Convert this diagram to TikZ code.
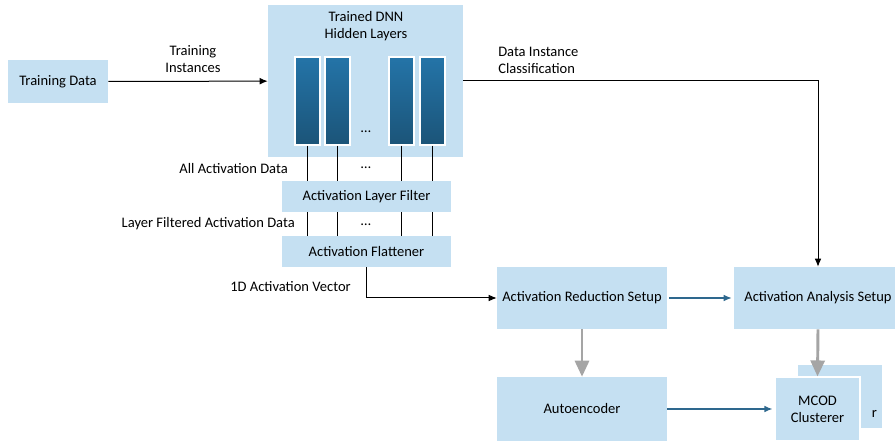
\documentclass[tikz,border=0pt]{standalone}
\usepackage{fontspec}
\setmainfont{Carlito}
\usepackage{xcolor}
\usetikzlibrary{math,arrows.meta}
\definecolor{boxblue}{RGB}{197,224,242}
\definecolor{bartop}{RGB}{36,116,168}
\definecolor{barbot}{RGB}{27,84,120}
\definecolor{flowblue}{RGB}{46,104,142}
\definecolor{heavygray}{RGB}{165,165,165}

\begin{document}
\begin{tikzpicture}[x=0.75pt,y=-0.75pt,
    font=\fontsize{10.9}{12.8}\selectfont,
    box/.style={fill=boxblue, inner sep=0pt, align=center},
    bar/.style={top color=bartop, bottom color=barbot, draw=white, thick,
      inner sep=0pt, minimum width=25*0.75pt, minimum height=88*0.75pt},
    plain/.style={-{Latex[length=6pt,width=5pt]}, black, line width=0.75pt},
    flow/.style={-{Latex[length=6pt,width=5pt]}, flowblue, line width=1pt},
    heavy/.style={-{Triangle[length=12pt,width=10.5pt]}, heavygray, line width=2.2pt},
    tag/.style={inner sep=0pt, align=center}]
  \tikzmath{\px = 0.75;}
  \useasboundingbox (0,0) rectangle (895,441);

  % boxes
  \node[box, minimum width=100*\px pt, minimum height=43*\px pt] (train) at (58,81.5) {Training Data};
  \node[box, minimum width=195*\px pt, minimum height=152*\px pt] (dnn) at (365.5,81) {};
  \node[tag] (dnntitle) at (366,26.5) {Trained DNN\\Hidden Layers};
  \node[bar] (l1) at (307.5,101) {};
  \node[bar] (l2) at (337.5,101) {};
  \node[bar] (l3) at (401.5,101) {};
  \node[bar] (l4) at (432.5,101) {};
  \node[tag] (dots1) at (366,132) {…};
  \node[box, minimum width=169*\px pt, minimum height=31*\px pt] (filter) at (366.5,196.5) {Activation Layer Filter};
  \node[box, minimum width=169*\px pt, minimum height=31*\px pt] (flat) at (366.5,251.5) {Activation Flattener};
  \node[box, minimum width=170*\px pt, minimum height=62*\px pt] (red) at (582,298) {Activation Reduction Setup};
  \node[box, minimum width=168*\px pt, minimum height=62*\px pt] (ana) at (818,298) {Activation Analysis Setup};
  \node[box, minimum width=170*\px pt, minimum height=64*\px pt] (auto) at (582,409) {Autoencoder};
  \node[box, minimum width=84*\px pt, minimum height=63*\px pt] (mcodback) at (840,396.5) {};
  \node[tag] (backtext) at (874.5,414) {r};
  \node[box, draw=white, thick, minimum width=85*\px pt, minimum height=64*\px pt] (mcod) at (817.5,409) {MCOD\\Clusterer};

  % labels
  \node[tag] (lbltrain) at (193,59) {Training\\Instances};
  \node[tag, anchor=west, align=left] (lblclass) at (498,60) {Data Instance\\Classification};
  \node[tag, anchor=east] (lblall) at (288,169) {All Activation Data};
  \node[tag, anchor=east] (lblfilt) at (295,224) {Layer Filtered Activation Data};
  \node[tag, anchor=east] (lblvec) at (351,287) {1D Activation Vector};
  \node[tag] (dots2) at (366,168) {…};
  \node[tag] (dots3) at (366,225) {…};

  % connectors
  \draw[plain] (train) -- (dnn);
  \draw[plain] (dnn.east) -| (ana.north);
  \foreach \l in {l1,l2,l3,l4} {
    \draw[black, line width=0.75pt] (\l.south) -- (\l.south |- filter.north);
    \draw[black, line width=0.75pt] (filter.south -| \l) -- (flat.north -| \l);
  }
  \draw[plain] (flat.south) |- (red.west);
  \draw[flow] (red.east) ++(2,0) -- ([xshift=-2*\px pt]ana.west);
  \draw[heavy] (red) -- (auto);
  \draw[heavy] (ana.south) -- (mcod.north);
  \draw[flow] (auto.east) -- ([xshift=-2*\px pt]mcod.west);
\end{tikzpicture}
\end{document}
